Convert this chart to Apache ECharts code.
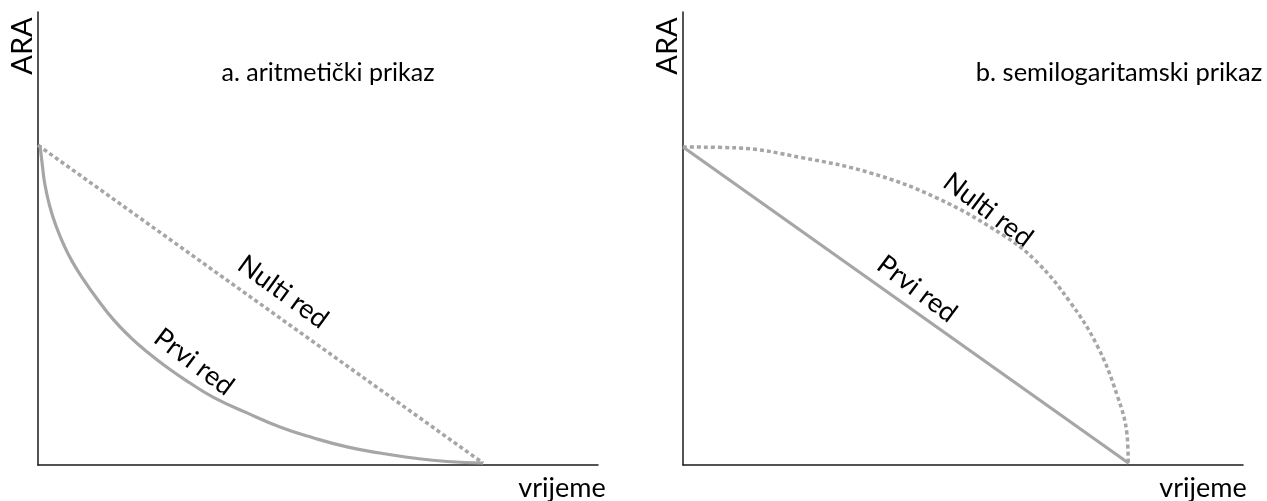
<!DOCTYPE html>
<html>
<head>
<meta charset="utf-8">
<title>ARA - vrijeme</title>
<script src="https://cdn.jsdelivr.net/npm/echarts@6/dist/echarts.min.js"></script>
<style>
  html, body { margin: 0; padding: 0; background: #fff; }
  #kinetika { width: 1267px; height: 501px; }
</style>
</head>
<body>
<div id="kinetika"></div>
<script>
// a. aritmetički prikaz
const vrijemeNultiA = [0, 79.5];
const araNultiA = [70.6, 0.4];
const vrijemePrviA = [0.36, 0.71, 1.25, 2.14, 3.21, 4.46, 6.07, 8.04, 10.54, 13.39, 16.43, 19.46, 23.21, 27.14, 31.25, 37.32, 43.21, 49.11, 55.18, 61.07, 66.96, 73.04, 79.46];
const araPrviA = [70.6, 66.9, 61.8, 56.95, 52.8, 49.0, 45.0, 41.1, 36.7, 32.2, 28.3, 25.0, 21.4, 18.1, 15.0, 11.5, 8.4, 6.0, 4.0, 2.65, 1.55, 0.77, 0.44];

// b. semilogaritamski prikaz
const vrijemeNultiB = [0, 9.6, 21.4, 33.4, 45.4, 57.1, 63.2, 69.1, 73.9, 77.5, 79.3, 79.5];
const araNultiB = [70.2, 70.0, 67.8, 64.5, 58.9, 50.8, 44.8, 36.0, 26.5, 15.5, 6.6, 0.4];
const vrijemePrviB = [0, 79.6];
const araPrviB = [70.2, 0.4];

const naslovi = ['a. aritmetički prikaz', 'b. semilogaritamski prikaz'];
const oznake = ['Nulti red', 'Prvi red'];

const pairs = (xs, ys) => xs.map((x, i) => [x, ys[i]]);

const siva = '#a6a6a6';
const font = 'Lato, "Open Sans", sans-serif';

const axisBase = {
  type: 'value',
  min: 0,
  max: 100,
  axisLine: { show: true, onZero: false, lineStyle: { color: '#1a1a1a', width: 1.5 } },
  axisTick: { show: false },
  axisLabel: { show: false },
  splitLine: { show: false },
};

function txt(text, x, y, size, rot) {
  return {
    type: 'text',
    x: x,
    y: y,
    rotation: (rot || 0) * Math.PI / 180,
    style: {
      text: text,
      fill: '#000',
      font: size + 'px ' + font,
      align: 'center',
      verticalAlign: 'middle',
    },
  };
}

const chart = echarts.init(document.getElementById('kinetika'));

const option = {
  animation: false,
  grid: [
    { left: 38, top: 12, width: 560, height: 453 },
    { left: 683, top: 12, width: 560, height: 453 },
  ],
  xAxis: [
    Object.assign({ gridIndex: 0 }, axisBase),
    Object.assign({ gridIndex: 1 }, axisBase),
  ],
  yAxis: [
    Object.assign({ gridIndex: 0 }, axisBase),
    Object.assign({ gridIndex: 1 }, axisBase),
  ],
  series: [
    {
      name: oznake[0] + ' a',
      type: 'line',
      xAxisIndex: 0,
      yAxisIndex: 0,
      showSymbol: false,
      data: pairs(vrijemeNultiA, araNultiA),
      lineStyle: { color: siva, width: 3.5, type: [4, 3], cap: 'butt' },
    },
    {
      name: oznake[1] + ' a',
      type: 'line',
      xAxisIndex: 0,
      yAxisIndex: 0,
      showSymbol: false,
      smooth: 0.5,
      data: pairs(vrijemePrviA, araPrviA),
      lineStyle: { color: siva, width: 3.2 },
    },
    {
      name: oznake[0] + ' b',
      type: 'line',
      xAxisIndex: 1,
      yAxisIndex: 1,
      showSymbol: false,
      smooth: 0.4,
      data: pairs(vrijemeNultiB, araNultiB),
      lineStyle: { color: siva, width: 3.5, type: [4, 3], cap: 'butt' },
    },
    {
      name: oznake[1] + ' b',
      type: 'line',
      xAxisIndex: 1,
      yAxisIndex: 1,
      showSymbol: false,
      data: pairs(vrijemePrviB, araPrviB),
      lineStyle: { color: siva, width: 3.2 },
    },
  ],
  graphic: [
    // osi
    txt('ARA', 23, 46, 29, 90),
    txt('ARA', 668, 46, 29, 90),
    txt('vrijeme', 562, 488, 27),
    txt('vrijeme', 1203, 488, 27),
    // naslovi
    txt(naslovi[0], 328, 73, 25),
    txt(naslovi[1], 1119, 73, 25.5),
    // oznake krivulja
    txt(oznake[0], 283, 292, 27, -36),
    txt(oznake[1], 194, 362, 27, -37),
    txt(oznake[0], 988, 210, 27, -37),
    txt(oznake[1], 917, 289, 27, -37),
  ],
};

chart.setOption(option);
</script>
</body>
</html>
